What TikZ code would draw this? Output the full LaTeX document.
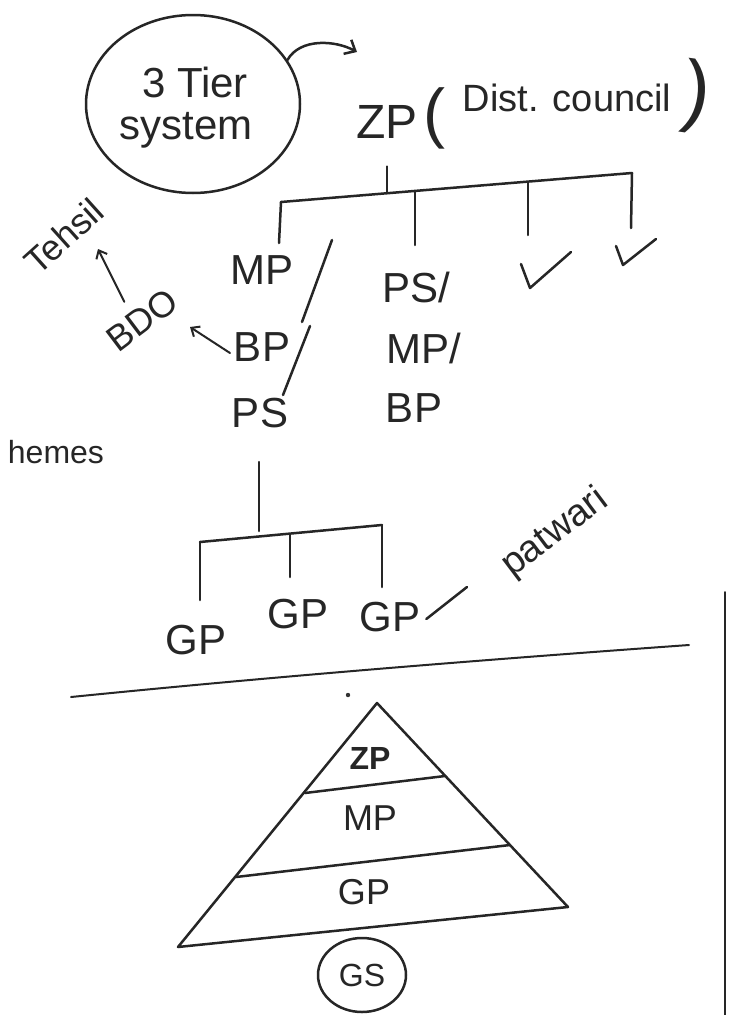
\documentclass[tikz,border=0pt]{standalone}
\usepackage{fontspec}
\setmainfont{Liberation Sans}
\usetikzlibrary{shapes.geometric,arrows.meta}
\newcommand{\myfs}[1]{\fontsize{#1}{#1}\selectfont}
\tikzset{
  hand/.style={line width=2.5pt, line cap=round, line join=round, draw=black!85},
  lbl/.style={inner sep=0pt, outer sep=0pt, text=black!85},
  big/.style={lbl, font=\myfs{42}},
  mid/.style={lbl, font=\myfs{36}},
  small/.style={lbl, font=\myfs{32}},
}
\begin{document}
\begin{tikzpicture}[x=1pt,y=-1pt]
\useasboundingbox (0,0) rectangle (738,1015);
\fill[white] (0,0) rectangle (738,1015);

% 3 tier system bubble
\node[hand, draw, ellipse, minimum width=214pt, minimum height=178pt] (tier) at (193,104) {};
\node[big] (tierA) at (195,82) {3 Tier};
\node[big] (tierB) at (186,130) {system};
\coordinate (arrEnd) at (357,52);
\draw[hand, -{Straight Barb[length=9pt,width=16pt]}] (tier.25) .. controls (300,38) and (335,40) .. (arrEnd);

% ZP (Dist. council)
\node[lbl, font=\myfs{48}] (zp) at (387,122) {ZP};
\node[lbl, font=\myfs{66}] (lpar) at (434,118) {(};
\node[lbl, font=\myfs{38}] (dist) at (567,98) {Dist. council};
\node[lbl, font=\myfs{80}, rotate=-8] (rpar) at (697,97) {)};

% first bus
\coordinate (b1L) at (281,202);
\coordinate (b1R) at (632,173);
\coordinate (b1z) at (387,193);
\coordinate (b1b) at (415,191);
\coordinate (b1c) at (528,182);
\draw[hand] ([yshift=-28pt]zp.south) -- (b1z);
\draw[hand] (b1L) -- (b1R);
\coordinate (d1) at (279,243);
\coordinate (d2) at (415,245);
\coordinate (d3) at (528,235);
\coordinate (d4) at (631,228);
\draw[hand] (b1L) -- (d1);
\draw[hand] (b1b) -- (d2);
\draw[hand] (b1c) -- (d3);
\draw[hand] (b1R) -- (d4);

% column 1
\node[big] (mp1) at (262,270) {MP};
\node[big] (bp1) at (262,347) {BP};
\node[big] (ps1) at (260,413) {PS};
\coordinate (s1a) at (332,240);
\coordinate (s1b) at (302,322);
\coordinate (s1c) at (310,326);
\coordinate (s1d) at (283,395);
\draw[hand] (s1a) -- (s1b);
\draw[hand] (s1c) -- (s1d);

% column 2
\node[big] (ps2) at (416,287) {PS/};
\node[big] (mp2) at (424,348) {MP/};
\node[big] (bp2) at (414,408) {BP};

% ticks
\coordinate (t1a) at (521,264);
\coordinate (t1b) at (530,288);
\coordinate (t1c) at (571,252);
\draw[hand] (t1a) -- (t1b) -- (t1c);
\coordinate (t2a) at (616,246);
\coordinate (t2b) at (623,265);
\coordinate (t2c) at (656,239);
\draw[hand] (t2a) -- (t2b) -- (t2c);

% BDO, Tehsil
\node[mid, rotate=37] (bdo) at (142,320) {BDO};
\node[mid, rotate=42] (tehsil) at (64,236) {Tehsil};
\coordinate (bdoArr) at (190,327);
\coordinate (tehArr) at (98,249);
\draw[hand, line width=2pt, -{Straight Barb[length=7pt,width=12pt]}] ([xshift=-4pt,yshift=-6pt]bp1.west) -- (bdoArr);
\draw[hand, line width=2pt, -{Straight Barb[length=7pt,width=12pt]}] ([xshift=-10pt,yshift=8pt]bdo.north) -- (tehArr);

% schemes fragment
\node[small, anchor=east] (hemes) at (104,452) {hemes};

% second bus
\coordinate (p1) at (259,462);
\coordinate (b2m) at (259,531);
\coordinate (b2L) at (200,542);
\coordinate (b2R) at (382,525);
\coordinate (b2b) at (290,534);
\draw[hand] (p1) -- (b2m);
\draw[hand] (b2L) -- (b2R);
\coordinate (e1) at (200,600);
\coordinate (e2) at (290,577);
\coordinate (e3) at (382,587);
\draw[hand] (b2L) -- (e1);
\draw[hand] (b2b) -- (e2);
\draw[hand] (b2R) -- (e3);
\node[big] (gp1) at (196,640) {GP};
\node[big] (gp2) at (298,614) {GP};
\node[big] (gp3) at (390,617) {GP};
\node[lbl, font=\myfs{38}, rotate=37] (patwari) at (555,533) {patwari};
\coordinate (dashEnd) at (467,587);
\draw[hand] ([xshift=6pt,yshift=-2pt]gp3.east) -- (dashEnd);

% separator
\coordinate (sepL) at (71,697);
\coordinate (sepR) at (689,645);
\draw[hand, line width=2pt] (sepL) .. controls (280,676) and (480,660) .. (sepR);
\coordinate (vt) at (725,592);
\coordinate (vb) at (725,1015);
\draw[hand, line width=1.8pt] (vt) -- (vb);
\fill[black!80] (348,695) circle (2.2pt);

% pyramid
\coordinate (apex) at (377,703);
\coordinate (baseL) at (178,947);
\coordinate (baseR) at (568,907);
\draw[hand] (apex) -- (baseL) -- (baseR) -- cycle;
\coordinate (l1L) at (305,793);
\coordinate (l1R) at (445,776);
\coordinate (l2L) at (236,877);
\coordinate (l2R) at (510,845);
\draw[hand] (l1L) -- (l1R);
\draw[hand] (l2L) -- (l2R);
\node[lbl, font=\bfseries\myfs{32}] (pzp) at (370,758) {ZP};
\node[mid] (pmp) at (370,818) {MP};
\node[mid] (pgp) at (364,892) {GP};
\node[hand, draw, ellipse, minimum width=88pt, minimum height=74pt, font=\myfs{32}, text=black!85] (gs) at (362,975) {GS};
\end{tikzpicture}
\end{document}
